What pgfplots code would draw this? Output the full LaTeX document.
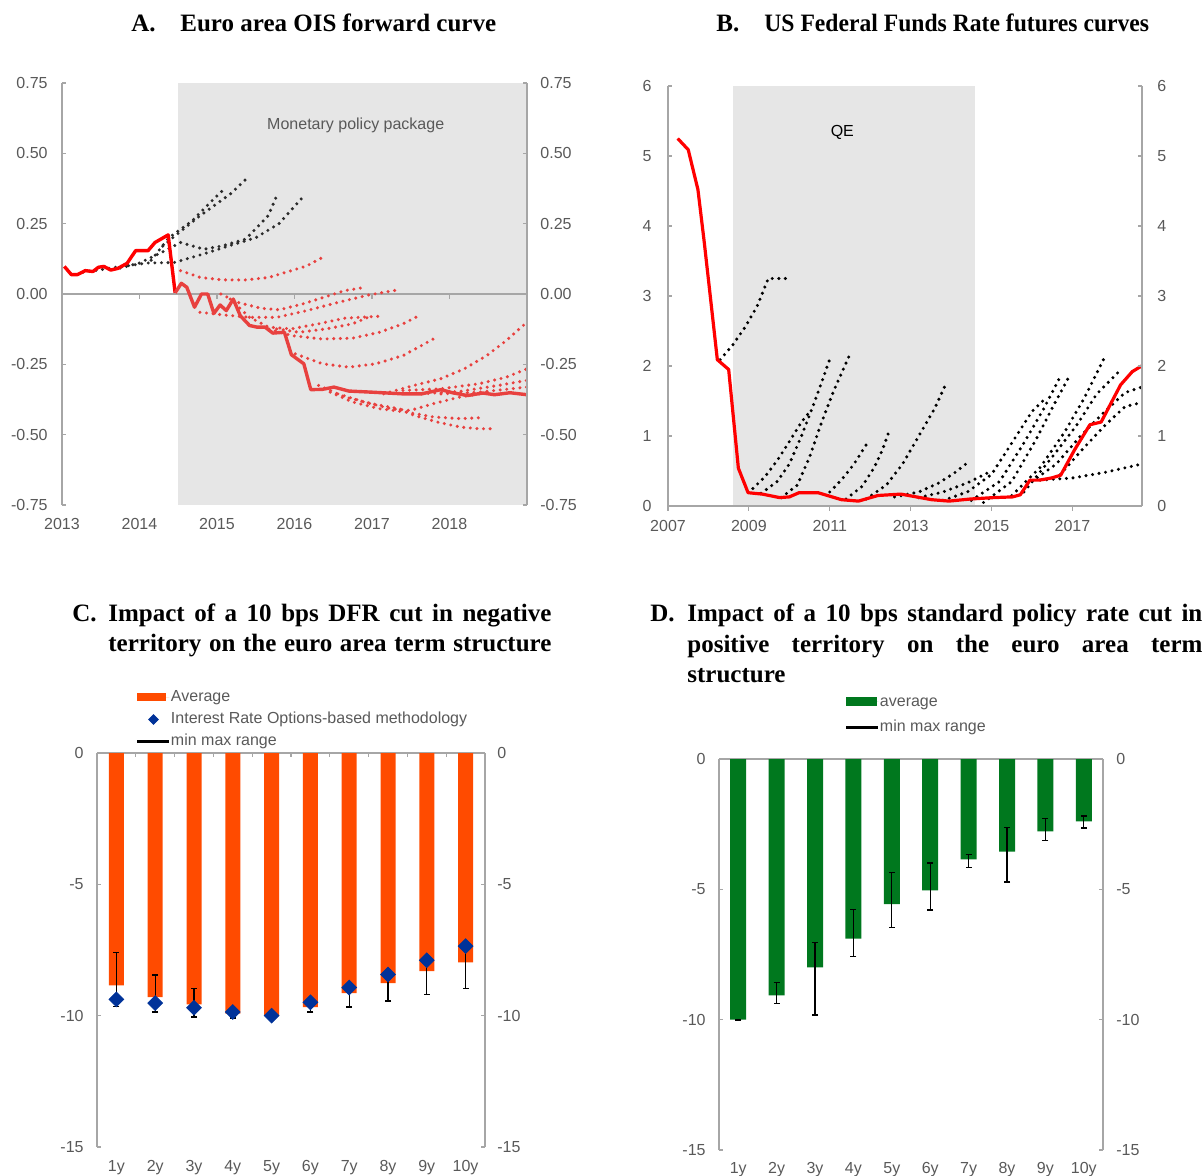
\documentclass[border=0pt]{standalone}
\usepackage{pgfplots}
\pgfplotsset{compat=1.18}
\usepackage{fontspec}
\setmainfont{Liberation Sans}
\newfontfamily\titlefont{Liberation Serif}
\definecolor{axisgray}{HTML}{A6A6A6}
\definecolor{labgray}{HTML}{595959}
\definecolor{shade}{HTML}{E6E6E6}
\definecolor{lred}{HTML}{E8413F}
\definecolor{dred}{HTML}{FF0000}
\definecolor{dgray}{HTML}{2B2B2B}
\definecolor{ecborange}{HTML}{FF4B00}
\definecolor{ecbnavy}{HTML}{003299}
\definecolor{ecbgreen}{HTML}{00781E}
\newcommand{\tickfont}{\fontsize{8}{9.6}\selectfont}
\newcommand{\ttl}{\titlefont\bfseries\fontsize{12.5}{15}\selectfont}
\pgfplotsset{
  base/.style={scale only axis, anchor=south west, clip=false, axis on top,
    separate axis lines,
    x axis line style={draw=none},
    y axis line style={axisgray, line width=0.6pt},
    xtick style={draw=none},
    ytick style={axisgray, line width=0.6pt},
    major tick length=2pt, tick align=inside,
    ticklabel style={font=\tickfont, text=labgray, inner sep=0pt},
  },
  rlabels/.style={scale only axis, anchor=south west, hide x axis,
    axis y line*=right, y axis line style={draw=none}, ytick style={draw=none},
    ticklabel style={font=\tickfont, text=labgray, inner sep=0pt}},
  dots/.style={line width=1.7pt, line cap=round, dash pattern=on 0pt off 3.3pt},
  leg/.style={legend cell align=left,
    legend style={draw=none, fill=none, inner sep=0pt, outer sep=0pt,
      font=\tickfont, text=labgray, column sep=0pt,
      nodes={inner sep=0pt, text height=6pt, text depth=1.8pt}}},
}
\begin{document}
\begin{tikzpicture}[x=0.5pt, y=-0.5pt]
\useasboundingbox (0,0) rectangle (1204,1176);
% ---------------- titles
\node[anchor=base west, inner sep=0pt, font=\ttl] at (131,32) {A.};
\node[anchor=base west, inner sep=0pt, font=\ttl] at (180,32) {Euro area OIS forward curve};
\node[anchor=base west, inner sep=0pt, font=\ttl] at (716,32) {B.};
\node[anchor=base west, inner sep=0pt, font=\ttl] at (764,32) {\scalebox{0.945}[1]{US Federal Funds Rate futures curves}};
\node[anchor=base west, inner sep=0pt, font=\ttl] at (72,621) {C.};
\node[anchor=base west, inner sep=0pt, font=\ttl] at (108,621) {\makebox[221.5pt][s]{Impact of a 10 bps DFR cut in negative}};
\node[anchor=base west, inner sep=0pt, font=\ttl] at (108,651) {\makebox[221.5pt][s]{territory on the euro area term structure}};
\node[anchor=base west, inner sep=0pt, font=\ttl] at (650,621) {D.};
\node[anchor=base west, inner sep=0pt, font=\ttl] at (687,621) {\makebox[257.5pt][s]{Impact of a 10 bps standard policy rate cut in}};
\node[anchor=base west, inner sep=0pt, font=\ttl] at (687,652) {\makebox[257.5pt][s]{positive territory on the euro area term}};
\node[anchor=base west, inner sep=0pt, font=\ttl] at (687,682) {structure};

% ---------------- Panel A
\begin{axis}[base, at={(31pt,-252.5pt)}, width=232.5pt, height=211pt,
  xmin=2013, xmax=2019, ymin=-0.75, ymax=0.75,
  xticklabel style={yshift=-6.5pt}, yticklabel style={xshift=-7pt},
  xtick={2013,2014,2015,2016,2017,2018}, xticklabels={2013,2014,2015,2016,2017,2018},
  ytick={-0.75,-0.5,-0.25,0,0.25,0.5,0.75},
  yticklabels={-0.75,-0.50,-0.25,0.00,0.25,0.50,0.75}]
\addplot[fill=shade, draw=none] coordinates {(2014.5,-0.75)(2014.5,0.75)(2019,0.75)(2019,-0.75)};
\draw[axisgray, line width=0.6pt] (axis cs:2013,0) -- (axis cs:2019,0);
\pgfplotsinvokeforeach{2014,2015,2016,2017,2018}{\draw[axisgray, line width=0.6pt] (axis cs:#1,0) -- ++(0pt,-2.5pt);}
% black forward curves
\addplot[dots, dgray] coordinates {(2013.27,0.077)(2013.7,0.095)(2014.1,0.11)(2014.45,0.112)(2014.8,0.14)(2015.2,0.175)(2015.5,0.2)(2015.8,0.25)(2016.11,0.345)};
\addplot[dots, dgray] coordinates {(2013.75,0.092)(2014.0,0.11)(2014.28,0.147)(2014.53,0.183)(2014.83,0.159)(2015.07,0.171)(2015.37,0.195)(2015.66,0.278)(2015.78,0.355)};
\addplot[dots, dgray] coordinates {(2014.15,0.12)(2014.38,0.2)(2014.68,0.26)(2014.93,0.33)(2015.07,0.367)};
\addplot[dots, dgray] coordinates {(2014.3,0.17)(2014.46,0.207)(2014.78,0.278)(2015.17,0.355)(2015.42,0.42)};
% red forward curves
\addplot[dots, lred] coordinates {(2014.53,0.083)(2014.78,0.059)(2015.07,0.05)(2015.37,0.05)(2015.67,0.059)(2015.96,0.083)(2016.16,0.10)(2016.36,0.13)};
\addplot[dots, lred] coordinates {(2015.05,0.0)(2015.27,-0.03)(2015.57,-0.051)(2015.81,-0.056)(2016.11,-0.035)(2016.41,-0.009)(2016.65,0.012)(2016.85,0.021)};
\addplot[dots, lred] coordinates {(2014.78,-0.065)(2015.07,-0.074)(2015.42,-0.083)(2015.77,-0.083)(2016.16,-0.059)(2016.56,-0.03)(2016.95,-0.004)(2017.32,0.014)};
\addplot[dots, lred] coordinates {(2015.17,-0.018)(2015.42,-0.083)(2015.67,-0.118)(2015.96,-0.124)(2016.31,-0.106)(2016.65,-0.086)(2017.10,-0.079)};
\addplot[dots, lred] coordinates {(2015.77,-0.124)(2016.06,-0.136)(2016.41,-0.124)(2016.75,-0.106)(2016.95,-0.083)};
\addplot[dots, lred] coordinates {(2015.67,-0.124)(2015.96,-0.148)(2016.36,-0.16)(2016.75,-0.157)(2017.10,-0.136)(2017.40,-0.106)(2017.62,-0.075)};
\addplot[dots, lred] coordinates {(2016.01,-0.213)(2016.36,-0.248)(2016.70,-0.26)(2017.05,-0.248)(2017.40,-0.219)(2017.64,-0.183)(2017.81,-0.157)};
\addplot[dots, lred] coordinates {(2016.31,-0.325)(2016.65,-0.366)(2017.0,-0.39)(2017.35,-0.408)(2017.54,-0.431)(2017.84,-0.455)(2018.14,-0.473)(2018.38,-0.479)(2018.58,-0.479)};
\addplot[dots, lred] coordinates {(2016.46,-0.349)(2016.75,-0.384)(2017.10,-0.408)(2017.45,-0.42)(2017.79,-0.437)(2018.14,-0.443)(2018.38,-0.44)};
\addplot[dots, lred] coordinates {(2016.56,-0.355)(2016.90,-0.384)(2017.25,-0.408)(2017.49,-0.414)(2017.79,-0.39)(2018.14,-0.366)(2018.5,-0.35)};
\addplot[dots, lred] coordinates {(2017.15,-0.355)(2017.54,-0.325)(2017.89,-0.301)(2018.19,-0.266)(2018.48,-0.219)(2018.73,-0.166)(2019.0,-0.10)};
\addplot[dots, lred] coordinates {(2017.40,-0.343)(2017.89,-0.337)(2018.38,-0.319)(2018.73,-0.296)(2019.0,-0.266)};
\addplot[dots, lred] coordinates {(2017.64,-0.355)(2018.14,-0.346)(2018.63,-0.325)(2019.0,-0.307)};
\addplot[dots, lred] coordinates {(2017.89,-0.355)(2018.38,-0.349)(2019.0,-0.331)};
% spot OIS
\addplot[dred, line width=1.7pt, line join=round] coordinates {(2013.03,0.098)(2013.12,0.069)(2013.20,0.069)(2013.30,0.083)(2013.40,0.080)(2013.47,0.095)(2013.54,0.098)(2013.63,0.085)(2013.72,0.091)(2013.84,0.109)(2013.95,0.154)(2014.11,0.154)(2014.20,0.183)(2014.37,0.210)(2014.46,0.004)};
\addplot[lred, line width=1.7pt, line join=round] coordinates {(2014.46,0.004)(2014.54,0.038)(2014.61,0.024)(2014.71,-0.047)(2014.80,0.0)(2014.88,0.0)(2014.96,-0.069)(2015.04,-0.039)(2015.12,-0.059)(2015.21,-0.018)(2015.30,-0.077)(2015.42,-0.112)(2015.52,-0.118)(2015.62,-0.118)(2015.72,-0.139)(2015.87,-0.136)(2015.96,-0.216)(2016.12,-0.248)(2016.21,-0.340)(2016.36,-0.339)(2016.51,-0.331)(2016.70,-0.345)(2017.00,-0.349)(2017.40,-0.355)(2017.64,-0.355)(2017.89,-0.340)(2018.04,-0.351)(2018.23,-0.361)(2018.43,-0.352)(2018.58,-0.358)(2018.78,-0.351)(2019.0,-0.358)};
\node[font=\tickfont, text=labgray] at (axis cs:2016.79,0.60) {Monetary policy package};
\end{axis}
\begin{axis}[rlabels, at={(31pt,-252.5pt)}, width=232.5pt, height=211pt,
  xmin=2013, xmax=2019, ymin=-0.75, ymax=0.75, yticklabel style={xshift=6.5pt},
  ytick={-0.75,-0.5,-0.25,0,0.25,0.5,0.75},
  yticklabels={-0.75,-0.50,-0.25,0.00,0.25,0.50,0.75}]
\addplot[draw=none] coordinates {(2014,0)};
\end{axis}

% ---------------- Panel B
\begin{axis}[base, at={(334pt,-253pt)}, width=237pt, height=210pt,
  xmin=2007, xmax=2018.72, ymin=0, ymax=6,
  xtick={2007,2009,2011,2013,2015,2017}, xticklabels={2007,2009,2011,2013,2015,2017},
  xticklabel style={yshift=-7pt}, yticklabel style={xshift=-8pt},
  ytick={0,1,2,3,4,5,6}, yticklabels={0,1,2,3,4,5,6}]
\addplot[fill=shade, draw=none] coordinates {(2008.61,0)(2008.61,6)(2014.59,6)(2014.59,0)};
\draw[axisgray, line width=0.6pt] (axis cs:2007,0) -- (axis cs:2018.72,0);
\pgfplotsinvokeforeach{2007,2009,2011,2013,2015,2017}{\draw[axisgray, line width=0.6pt] (axis cs:#1,0) -- ++(0pt,-2.5pt);}
\addplot[dots, black] coordinates {(2008.29,2.09)(2008.6,2.30)(2008.9,2.55)(2009.2,2.85)(2009.48,3.25)(2010.0,3.25)};
\addplot[dots, black] coordinates {(2009.1,0.25)(2009.4,0.42)(2009.7,0.65)(2010.0,0.92)(2010.3,1.2)(2010.55,1.38)};
\addplot[dots, black] coordinates {(2009.3,0.18)(2009.7,0.35)(2010.0,0.6)(2010.3,1.0)(2010.6,1.45)(2010.85,1.85)(2011.0,2.1)};
\addplot[dots, black] coordinates {(2009.8,0.12)(2010.2,0.3)(2010.5,0.7)(2010.8,1.2)(2011.1,1.65)(2011.5,2.17)};
\addplot[dots, black] coordinates {(2011.0,0.2)(2011.3,0.38)(2011.6,0.6)(2011.95,0.92)};
\addplot[dots, black] coordinates {(2011.4,0.1)(2011.8,0.28)(2012.1,0.55)(2012.3,0.8)(2012.48,1.09)};
\addplot[dots, black] coordinates {(2011.9,0.1)(2012.4,0.3)(2012.8,0.6)(2013.2,1.0)(2013.6,1.4)(2013.9,1.78)};
\addplot[dots, black] coordinates {(2012.6,0.13)(2013.2,0.2)(2013.7,0.33)(2014.1,0.48)(2014.43,0.63)};
\addplot[dots, black] coordinates {(2013.2,0.12)(2013.8,0.2)(2014.4,0.33)(2015.0,0.5)};
\addplot[dots, black] coordinates {(2013.8,0.08)(2014.4,0.2)(2015.0,0.45)(2015.5,0.9)(2016.0,1.35)(2016.3,1.52)};
\addplot[dots, black] coordinates {(2014.5,0.08)(2015.2,0.35)(2015.8,0.9)(2016.3,1.4)(2016.7,1.85)};
\addplot[dots, black] coordinates {(2014.8,0.05)(2015.5,0.35)(2016.1,0.95)(2016.5,1.4)(2016.9,1.83)};
\addplot[dots, black] coordinates {(2015.5,0.15)(2016.2,0.55)(2016.8,1.05)(2017.3,1.55)(2017.8,2.13)};
\addplot[dots, black] coordinates {(2015.8,0.2)(2016.5,0.7)(2017.1,1.15)(2017.6,1.6)(2018.2,1.95)};
\addplot[dots, black] coordinates {(2016.0,0.35)(2016.6,0.6)(2017.2,1.0)(2017.8,1.35)(2018.3,1.62)(2018.72,1.7)};
\addplot[dots, black] coordinates {(2016.7,0.45)(2017.2,0.78)(2017.8,1.15)(2018.3,1.42)(2018.72,1.48)};
\addplot[dots, black] coordinates {(2016.2,0.37)(2017.0,0.40)(2017.8,0.48)(2018.72,0.6)};
\addplot[dred, line width=1.6pt, line join=round] coordinates {(2007.24,5.25)(2007.50,5.09)(2007.74,4.52)(2007.90,3.75)(2008.22,2.09)(2008.50,1.95)(2008.74,0.54)(2008.98,0.19)(2009.33,0.17)(2009.76,0.12)(2010.0,0.13)(2010.24,0.19)(2010.71,0.19)(2011.0,0.14)(2011.29,0.09)(2011.71,0.07)(2012.19,0.15)(2012.76,0.17)(2013.14,0.13)(2013.52,0.09)(2013.95,0.07)(2014.48,0.10)(2015.05,0.12)(2015.52,0.13)(2015.71,0.16)(2015.95,0.37)(2016.19,0.37)(2016.48,0.40)(2016.71,0.44)(2017.05,0.80)(2017.43,1.16)(2017.71,1.20)(2018.19,1.73)(2018.48,1.92)(2018.71,2.00)};
\node[font=\tickfont, text=black] at (axis cs:2011.31,5.34) {QE};
\end{axis}
\begin{axis}[rlabels, at={(334pt,-253pt)}, width=237pt, height=210pt,
  xmin=2007, xmax=2018.72, ymin=0, ymax=6, yticklabel style={xshift=7.5pt},
  ytick={0,1,2,3,4,5,6}, yticklabels={0,1,2,3,4,5,6}]
\addplot[draw=none] coordinates {(2010,1)};
\end{axis}

% ---------------- Panel C
\begin{axis}[base, leg, at={(48.5pt,-573.5pt)}, width=194pt, height=197pt,
  xmin=0.5, xmax=10.5, ymin=-15, ymax=0,
  xtick={1,2,3,4,5,6,7,8,9,10}, xticklabels={1y,2y,3y,4y,5y,6y,7y,8y,9y,10y},
  xticklabel style={yshift=-6.5pt}, yticklabel style={xshift=-6.5pt},
  ytick={-15,-10,-5,0}, yticklabels={-15,-10,-5,0},
  legend style={at={(0.1005,1.161)}, anchor=north west, row sep=3.3pt}]
\draw[axisgray, line width=0.6pt] (axis cs:0.5,0) -- (axis cs:10.5,0);
\pgfplotsinvokeforeach{1.5,2.5,3.5,4.5,5.5,6.5,7.5,8.5,9.5}{\draw[axisgray, line width=0.6pt] (axis cs:#1,0) -- ++(0pt,-2pt);}
\addplot[ybar, bar width=7.5pt, fill=ecborange, draw=none,
  legend image code/.code={\path[draw=none] (0pt,0pt) -- (16pt,0pt); \fill[ecborange] (0pt,-2pt) rectangle (14.5pt,2pt);}]
  coordinates {(1,-8.85)(2,-9.29)(3,-9.57)(4,-9.92)(5,-10.0)(6,-9.67)(7,-9.14)(8,-8.76)(9,-8.30)(10,-7.97)};
\addlegendentry{Average}
\addplot[forget plot, draw=none, mark=none, error bars/.cd, y dir=both, y explicit,
  error bar style={black, line width=0.6pt}, error mark options={black, line width=0.6pt, mark size=1.5pt, rotate=90}]
  coordinates {(1,-8.61) +- (0,1.03) (2,-9.155) +- (0,0.705) (3,-9.515) +- (0,0.535) (4,-9.92) +- (0,0.17) (5,-10.0) +- (0,0.06) (6,-9.655) +- (0,0.205) (7,-9.31) +- (0,0.36) (8,-8.945) +- (0,0.495) (9,-8.545) +- (0,0.645) (10,-8.155) +- (0,0.805)};
\addplot[only marks, draw=none, mark=square*, mark size=2.6pt, mark options={rotate=45, fill=ecbnavy, draw=ecbnavy},
  legend image code/.code={\path[draw=none] (0pt,0pt) -- (16pt,0pt); \path[draw=none] plot[mark=square*, mark size=1.7pt, mark options={rotate=45, fill=ecbnavy, draw=ecbnavy}] coordinates {(8pt,0pt)};}]
  coordinates {(1,-9.38)(2,-9.52)(3,-9.70)(4,-9.86)(5,-10.0)(6,-9.49)(7,-8.93)(8,-8.43)(9,-7.89)(10,-7.35)};
\addlegendentry{Interest Rate Options-based methodology}
\addlegendimage{legend image code/.code={\draw[black, line width=1.5pt] (0pt,0pt) -- (16pt,0pt);}}
\addlegendentry{min max range}
\end{axis}
\begin{axis}[rlabels, at={(48.5pt,-573.5pt)}, width=194pt, height=197pt,
  xmin=0.5, xmax=10.5, ymin=-15, ymax=0, yticklabel style={xshift=6pt},
  ytick={-15,-10,-5,0}, yticklabels={-15,-10,-5,0}]
\addplot[draw=none] coordinates {(1,-1)};
\end{axis}

% ---------------- Panel D
\begin{axis}[base, leg, at={(359.5pt,-575pt)}, width=192pt, height=195.5pt,
  xmin=0.5, xmax=10.5, ymin=-15, ymax=0,
  xtick={1,2,3,4,5,6,7,8,9,10}, xticklabels={1y,2y,3y,4y,5y,6y,7y,8y,9y,10y},
  xticklabel style={yshift=-6pt}, yticklabel style={xshift=-6.5pt},
  ytick={-15,-10,-5,0}, yticklabels={-15,-10,-5,0},
  legend style={at={(0.328,1.166)}, anchor=north west, row sep=5pt}]
\draw[axisgray, line width=0.6pt] (axis cs:0.5,0) -- (axis cs:10.5,0);
\addplot[ybar, bar width=8pt, fill=ecbgreen, draw=none,
  legend image code/.code={\path[draw=none] (0pt,0pt) -- (16pt,0pt); \fill[ecbgreen] (0pt,-2.2pt) rectangle (15.5pt,2.2pt);}]
  coordinates {(1,-10.0)(2,-9.07)(3,-7.99)(4,-6.89)(5,-5.57)(6,-5.04)(7,-3.85)(8,-3.55)(9,-2.78)(10,-2.39)};
\addlegendentry{average}
\addplot[forget plot, draw=none, mark=none, error bars/.cd, y dir=both, y explicit,
  error bar style={black, line width=0.6pt}, error mark options={black, line width=0.6pt, mark size=1.5pt, rotate=90}]
  coordinates {(1,-10.0) +- (0,0.02) (2,-8.975) +- (0,0.395) (3,-8.43) +- (0,1.39) (4,-6.675) +- (0,0.915) (5,-5.405) +- (0,1.065) (6,-4.89) +- (0,0.9) (7,-3.905) +- (0,0.255) (8,-3.67) +- (0,1.05) (9,-2.695) +- (0,0.425) (10,-2.42) +- (0,0.23)};
\addlegendimage{legend image code/.code={\draw[black, line width=1.5pt] (0pt,0pt) -- (16pt,0pt);}}
\addlegendentry{min max range}
\end{axis}
\begin{axis}[rlabels, at={(359.5pt,-575pt)}, width=192pt, height=195.5pt,
  xmin=0.5, xmax=10.5, ymin=-15, ymax=0, yticklabel style={xshift=6.5pt},
  ytick={-15,-10,-5,0}, yticklabels={-15,-10,-5,0}]
\addplot[draw=none] coordinates {(1,-1)};
\end{axis}
\end{tikzpicture}
\end{document}
